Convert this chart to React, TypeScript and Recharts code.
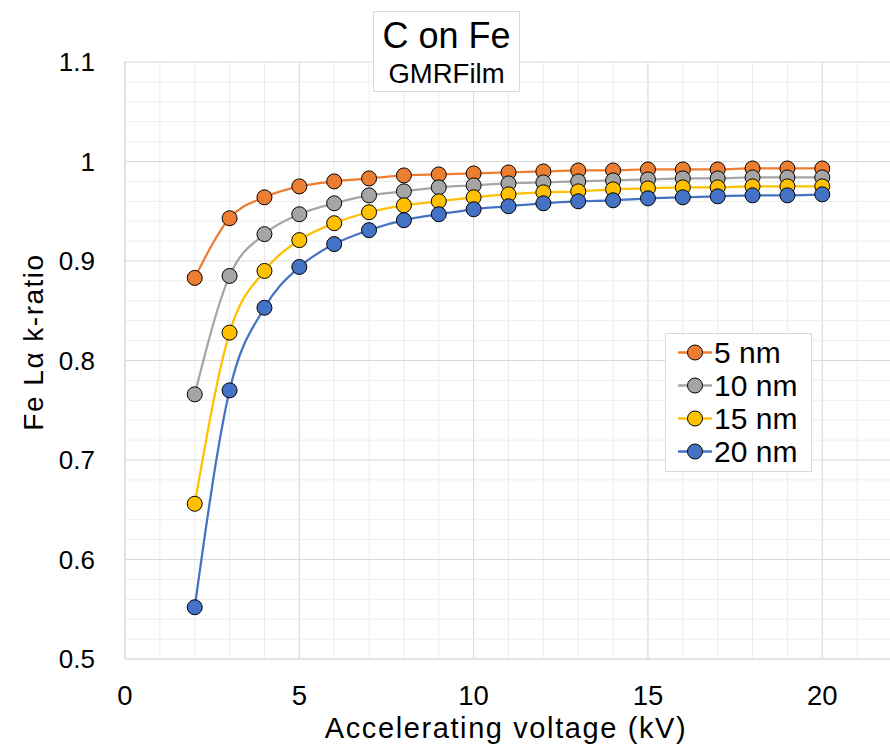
import React from 'react';
import { LineChart, Line, XAxis, YAxis, CartesianGrid, ReferenceLine } from 'recharts';

const voltages = [2, 3, 4, 5, 6, 7, 8, 9, 10, 11, 12, 13, 14, 15, 16, 17, 18, 19, 20];
const nm5 = [0.883, 0.943, 0.964, 0.975, 0.980, 0.983, 0.986, 0.987, 0.988, 0.989, 0.990, 0.991, 0.991, 0.992, 0.992, 0.992, 0.993, 0.993, 0.993];
const nm10 = [0.766, 0.885, 0.927, 0.947, 0.958, 0.966, 0.970, 0.974, 0.976, 0.978, 0.979, 0.980, 0.981, 0.982, 0.983, 0.983, 0.984, 0.984, 0.984];
const nm15 = [0.656, 0.828, 0.890, 0.921, 0.938, 0.949, 0.956, 0.960, 0.964, 0.967, 0.969, 0.970, 0.972, 0.973, 0.974, 0.974, 0.975, 0.975, 0.975];
const nm20 = [0.552, 0.770, 0.853, 0.894, 0.917, 0.931, 0.941, 0.947, 0.952, 0.955, 0.958, 0.960, 0.961, 0.963, 0.964, 0.965, 0.966, 0.966, 0.967];

const xTicks = [0, 5, 10, 15, 20];
const yTicks = [0.5, 0.6, 0.7, 0.8, 0.9, 1.0, 1.1];
const xMinorTicks = [0, 1, 2, 3, 4, 5, 6, 7, 8, 9, 10, 11, 12, 13, 14, 15, 16, 17, 18, 19, 20, 21, 22];
const yMinorTicks = [0.52, 0.54, 0.56, 0.58, 0.62, 0.64, 0.66, 0.68, 0.72, 0.74, 0.76, 0.78, 0.82, 0.84, 0.86, 0.88, 0.92, 0.94, 0.96, 0.98, 1.02, 1.04, 1.06, 1.08];

const seriesDefs = [
  { key: 's5', name: '5 nm', values: nm5, color: '#ED7D31' },
  { key: 's10', name: '10 nm', values: nm10, color: '#A5A5A5' },
  { key: 's15', name: '15 nm', values: nm15, color: '#FFC000' },
  { key: 's20', name: '20 nm', values: nm20, color: '#4472C4' },
];

const data = voltages.map((v, i) => {
  const row: any = { kv: v };
  seriesDefs.forEach((s) => { row[s.key] = s.values[i]; });
  return row;
});

const FONT = 'Arial, "Liberation Sans", sans-serif';
const legendRows = [352.5, 385.5, 418.5, 451.5];

export default function App() {
  return (
    <div style={{ position: 'absolute', left: 0, top: 0, width: 890, height: 747, overflow: 'hidden', background: '#fff', fontFamily: FONT }}>
      <LineChart width={900} height={747} data={data} margin={{ top: 62, right: 8, bottom: 0, left: 0 }}>
        <XAxis xAxisId="minor" dataKey="kv" type="number" domain={[0, 22]} ticks={xMinorTicks} hide />
        <CartesianGrid xAxisId="minor" horizontal={false} stroke="#EDEDED" strokeWidth={1} />
        {yMinorTicks.map((v) => (
          <ReferenceLine key={v} y={v} stroke="#EDEDED" strokeWidth={1} />
        ))}
        <CartesianGrid stroke="#D9D9D9" strokeWidth={1} />
        <XAxis
          dataKey="kv"
          type="number"
          domain={[0, 22]}
          ticks={xTicks}
          height={88}
          tickSize={0}
          tickMargin={26.5}
          axisLine={{ stroke: '#D9D9D9', strokeWidth: 1 }}
          tick={{ fontSize: 27.5, fill: '#000', fontFamily: FONT }}
          interval={0}
        />
        <YAxis
          type="number"
          domain={[0.5, 1.1]}
          ticks={yTicks}
          width={125}
          tickSize={0}
          tickMargin={30}
          axisLine={{ stroke: '#D9D9D9', strokeWidth: 1 }}
          tick={{ fontSize: 26, fill: '#000', fontFamily: FONT }}
          tickFormatter={(v: number) => (v === 1 ? '1' : String(Math.round(v * 10) / 10))}
          interval={0}
        />
        {seriesDefs.map((s) => (
          <Line
            key={s.key}
            dataKey={s.key}
            name={s.name}
            type="monotone"
            stroke={s.color}
            strokeWidth={2.25}
            dot={{ r: 7.5, fill: s.color, stroke: '#000', strokeWidth: 1 }}
            activeDot={false}
            isAnimationActive={false}
          />
        ))}
      </LineChart>
      <svg width={890} height={747} style={{ position: 'absolute', left: 0, top: 0, pointerEvents: 'none' }}>
        <rect x={373.5} y={11.5} width={146} height={80} fill="#fff" stroke="#D9D9D9" strokeWidth={1} />
        <text x={446.5} y={48} textAnchor="middle" fontSize={36} fontFamily={FONT} fill="#000">C on Fe</text>
        <text x={446.5} y={83} textAnchor="middle" fontSize={27.5} fontFamily={FONT} fill="#000">GMRFilm</text>

        <rect x={665.5} y={333.5} width={146} height={138} fill="#fff" stroke="#D9D9D9" strokeWidth={1} />
        {seriesDefs.map((s, i) => (
          <g key={s.key}>
            <line x1={678} x2={712} y1={legendRows[i]} y2={legendRows[i]} stroke={s.color} strokeWidth={2.5} />
            <circle cx={695} cy={legendRows[i]} r={7.5} fill={s.color} stroke="#000" strokeWidth={1} />
            <text x={714} y={legendRows[i] + 10.5} fontSize={30} fontFamily={FONT} fill="#000">{s.name}</text>
          </g>
        ))}

        <text x={506} y={738} textAnchor="middle" fontSize={29} letterSpacing={1.6} fontFamily={FONT} fill="#000">Accelerating voltage (kV)</text>
        <text x={43} y={342} textAnchor="middle" fontSize={28} letterSpacing={1.5} fontFamily={FONT} fill="#000" transform="rotate(-90 43 342)">Fe Lα k-ratio</text>
      </svg>
    </div>
  );
}
